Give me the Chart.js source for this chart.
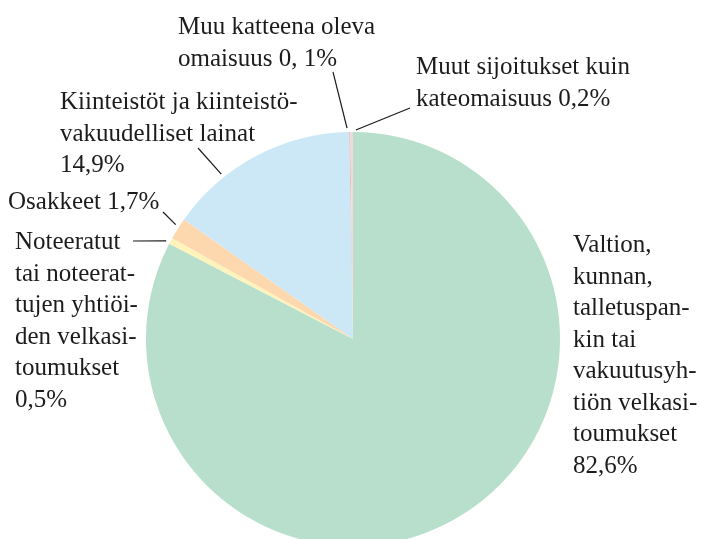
<!DOCTYPE html>
<html>
<head>
<meta charset="utf-8">
<script src="https://cdn.jsdelivr.net/npm/chart.js@4.4.1/dist/chart.umd.min.js"></script>
<style>
  html, body { margin: 0; padding: 0; background: #ffffff; }
  #clip { width: 701px; height: 539px; overflow: hidden; position: relative; }
  #wrap { width: 701px; height: 560px; position: absolute; left: 0; top: 0; }
</style>
</head>
<body>
<div id="clip"><div id="wrap"><canvas id="c"></canvas></div></div>
<script>
// ---- data ----
const categories = [
  "Valtion, kunnan, talletuspankin tai vakuutusyhtiön velkasitoumukset",
  "Noteeratut tai noteerattujen yhtiöiden velkasitoumukset",
  "Osakkeet",
  "Kiinteistöt ja kiinteistövakuudelliset lainat",
  "Muu katteena oleva omaisuus",
  "Muut sijoitukset kuin kateomaisuus"
];
const values = [82.6, 0.5, 1.7, 14.9, 0.1, 0.2];
const sliceColors = ["#b7dfcb", "#fdf3bb", "#fdd8ae", "#cce8f7", "#d6c8bb", "#f6d5de"];
const labelLines = [
  ["Valtion,", "kunnan,", "talletuspan-", "kin tai", "vakuutusyh-", "tiön velkasi-", "toumukset", "82,6%"],
  ["Noteeratut", "tai noteerat-", "tujen yhtiöi-", "den velkasi-", "toumukset", "0,5%"],
  ["Osakkeet 1,7%"],
  ["Kiinteistöt ja kiinteistö-", "vakuudelliset lainat", "14,9%"],
  ["Muu katteena oleva", "omaisuus 0, 1%"],
  ["Muut sijoitukset kuin", "kateomaisuus 0,2%"]
];

// ---- label layout (text position, leader line) ----
const labelLayout = [
  { x: 573, y: 252, lh: 31.5, leader: null },
  { x: 15,  y: 249, lh: 31.6, leader: { from: [133, 241], frac: 0.2, dr: 4 } },
  { x: 8,   y: 209, lh: 31.5, leader: { from: [163, 212], frac: 0.6, dr: 4 } },
  { x: 60,  y: 109, lh: 31.5, leader: { from: [198, 148], frac: 0.3, dr: 4 } },
  { x: 178, y: 34,  lh: 31.5, leader: { from: [333, 72],  frac: -1.5, dr: 4 } },
  { x: 416, y: 74,  lh: 32,   leader: { from: [410, 108], frac: 2.1, dr: 2 } }
];

const labelPlugin = {
  id: 'pieLabels',
  afterDatasetsDraw(chart) {
    const ctx = chart.ctx;
    const meta = chart.getDatasetMeta(0);
    ctx.save();
    ctx.fillStyle = '#1d1b1b';
    ctx.strokeStyle = '#1d1b1b';
    ctx.lineWidth = 1.2;
    ctx.font = '25px "Liberation Serif", "Times New Roman", serif';
    ctx.textBaseline = 'alphabetic';
    ctx.textAlign = 'left';
    labelLines.forEach((lines, i) => {
      const L = labelLayout[i];
      lines.forEach((t, k) => ctx.fillText(t, L.x, L.y + k * L.lh));
      if (L.leader) {
        const arc = meta.data[i];
        const p = arc.getProps(['x', 'y', 'startAngle', 'endAngle', 'outerRadius'], true);
        const a = p.startAngle + (p.endAngle - p.startAngle) * L.leader.frac;
        const r = p.outerRadius + L.leader.dr;
        const ex = p.x + Math.cos(a) * r;
        const ey = p.y + Math.sin(a) * r;
        ctx.beginPath();
        ctx.moveTo(L.leader.from[0], L.leader.from[1]);
        ctx.lineTo(ex, ey);
        ctx.stroke();
      }
    });
    ctx.restore();
  }
};

new Chart(document.getElementById('c'), {
  type: 'pie',
  data: {
    labels: categories,
    datasets: [{
      data: values,
      backgroundColor: sliceColors,
      borderWidth: 0
    }]
  },
  options: {
    responsive: true,
    maintainAspectRatio: false,
    animation: false,
    layout: { padding: { left: 146, right: 141, top: 132, bottom: 14 } },
    plugins: {
      legend: { display: false },
      tooltip: { enabled: false }
    }
  },
  plugins: [labelPlugin]
});
</script>
</body>
</html>
